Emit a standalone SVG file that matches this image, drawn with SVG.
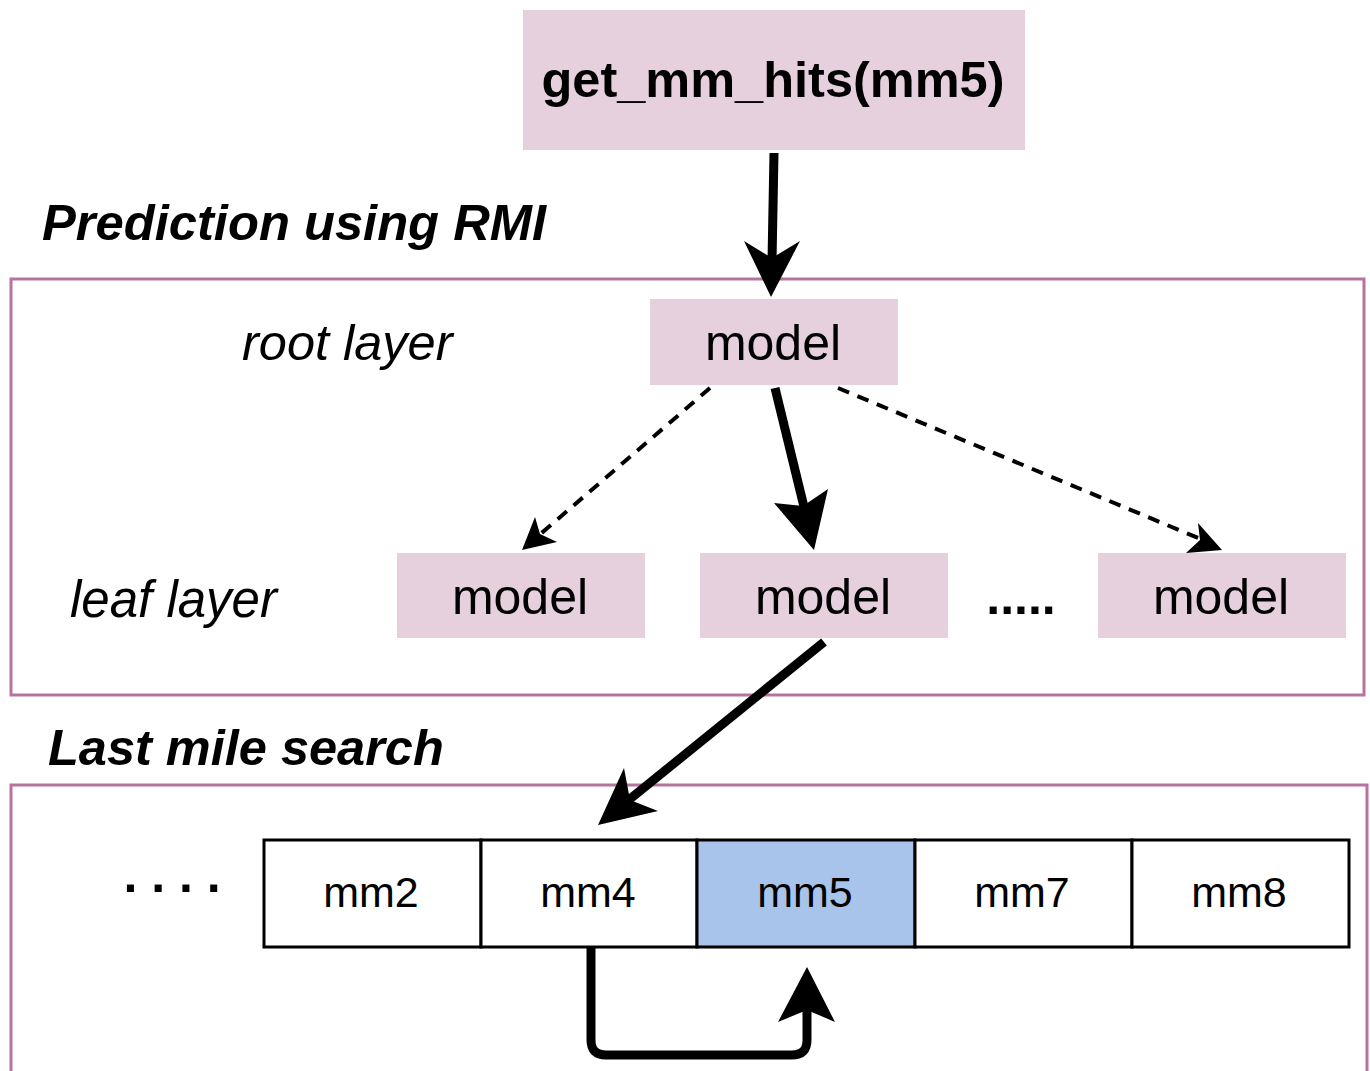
<svg xmlns="http://www.w3.org/2000/svg" width="1370" height="1071" viewBox="0 0 1370 1071">
<style>
.node{fill:#e6d0de;}
.frame{fill:none;stroke:#b5739d;stroke-width:3;}
.t{font-family:"Liberation Sans",Arial,sans-serif;font-size:50px;fill:#000;text-anchor:middle;}
.lbl{font-family:"Liberation Sans",Arial,sans-serif;font-size:50.5px;fill:#000;font-style:italic;}
.b{font-weight:bold;}
.cell{fill:#fff;stroke:#000;stroke-width:3;}
.ct{font-family:"Liberation Sans",Arial,sans-serif;font-size:43px;fill:#000;text-anchor:middle;}
.solid{fill:none;stroke:#000;stroke-width:9;}
.dash{fill:none;stroke:#000;stroke-width:4;stroke-dasharray:12 9;}
</style>
<rect width="1370" height="1071" fill="#fff"/>
<g id="frames">
<rect class="frame" x="11" y="279" width="1353" height="416"/>
<rect class="frame" x="11" y="785" width="1356" height="320"/>
</g>
<g id="labels">
<text class="lbl b" x="42" y="240" style="font-size:50.7px">Prediction using RMI</text>
<text class="lbl" x="242" y="360" style="font-size:50.5px">root layer</text>
<text class="lbl" x="70" y="617" style="font-size:51px">leaf layer</text>
<text class="lbl b" x="48" y="765" style="font-size:50.5px">Last mile search</text>
<text class="t b" x="1021" y="614">.....</text>
<text class="t b" x="172" y="892">. . . .</text>
</g>
<g id="n-query"><rect class="node" x="523" y="10" width="502" height="140"/><text class="t b" x="773" y="97" style="font-size:50.5px">get_mm_hits(mm5)</text></g>
<g id="n-root"><rect class="node" x="650" y="299" width="248" height="86"/><text class="t" x="773" y="360">model</text></g>
<g id="n-leaf1"><rect class="node" x="397" y="553" width="248" height="85"/><text class="t" x="520" y="614">model</text></g>
<g id="n-leaf2"><rect class="node" x="700" y="553" width="248" height="85"/><text class="t" x="823" y="614">model</text></g>
<g id="n-leaf3"><rect class="node" x="1098" y="553" width="248" height="85"/><text class="t" x="1221" y="614">model</text></g>
<g id="array">
<g id="c-mm2"><rect class="cell" x="264" y="840" width="217" height="107"/><text class="ct" x="371" y="907">mm2</text></g>
<g id="c-mm4"><rect class="cell" x="481" y="840" width="216" height="107"/><text class="ct" x="588" y="907">mm4</text></g>
<g id="c-mm5"><rect class="cell" x="697" y="840" width="218" height="107" style="fill:#a9c4eb"/><text class="ct" x="805" y="907">mm5</text></g>
<g id="c-mm7"><rect class="cell" x="915" y="840" width="217" height="107"/><text class="ct" x="1022" y="907">mm7</text></g>
<g id="c-mm8"><rect class="cell" x="1132" y="840" width="217" height="107"/><text class="ct" x="1239" y="907">mm8</text></g>
</g>
<g id="connectors">
<line class="solid" x1="774" y1="153" x2="772" y2="262"/>
<path d="M771,297 L744,241 L772,258 L800,241 Z" fill="#000"/>
<line class="dash" x1="710" y1="388" x2="537" y2="537"/>
<path d="M522,550 L535,517 L540,534 L557,542 Z" fill="#000"/>
<line class="solid" x1="775" y1="388" x2="806" y2="515"/>
<path d="M814,550 L774,503 L803,506 L828,489 Z" fill="#000"/>
<line class="dash" x1="838" y1="388" x2="1203" y2="540"/>
<path d="M1222,550 L1198,523 L1200,540 L1186,553 Z" fill="#000"/>
<line class="solid" x1="824" y1="642" x2="625" y2="803"/>
<path d="M598,825 L624,768 L630,800 L658,811 Z" fill="#000"/>
<path class="solid" d="M591,947 L591,1040 Q591,1055 606,1055 L792,1055 Q807,1055 807,1040 L807,1005"/>
<path d="M807,967 L835,1022 L807,1010 L778,1022 Z" fill="#000"/>
</g>
</svg>
